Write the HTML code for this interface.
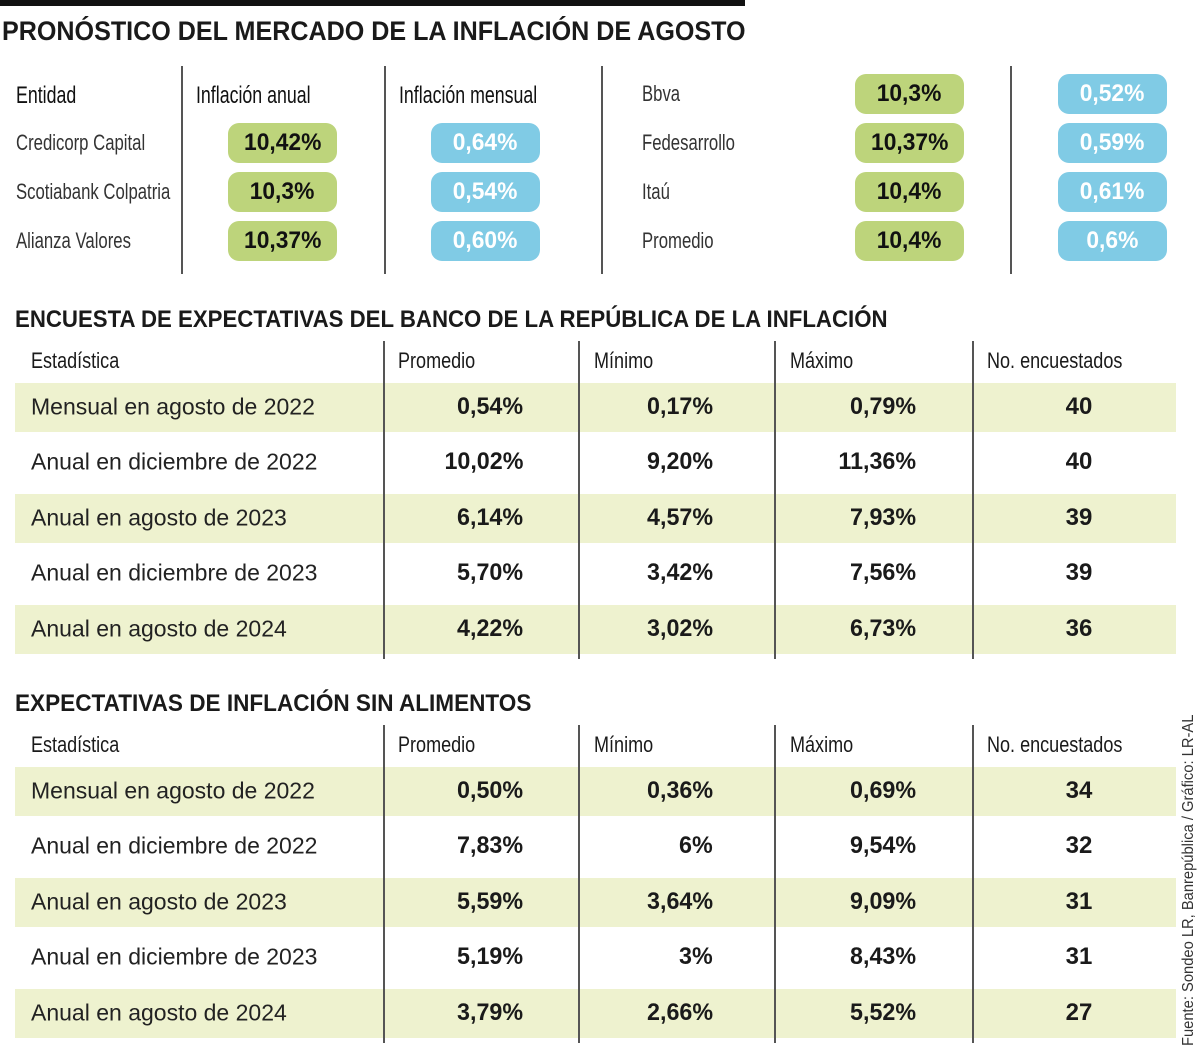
<!DOCTYPE html>
<html><head><meta charset="utf-8">
<style>
body{margin:0;width:1200px;height:1051px;background:#fff;position:relative;overflow:hidden;font-family:"Liberation Sans",sans-serif;color:#1a1a1a}
.a{position:absolute;white-space:nowrap}
.t{font-weight:bold;transform-origin:0 0}
.pill{position:absolute;width:109px;height:40px;border-radius:11px;text-align:center;line-height:40px;font-weight:bold;font-size:24px}
.pill span{display:inline-block;transform:scaleX(0.95)}
.g{background:#bdd47b;color:#111}
.b{background:#80cbe5;color:#fff}
.vl{position:absolute;width:1.5px;background:#555}
.lbl{font-size:22px;transform-origin:0 0;transform:translateY(-50%) scaleX(0.76)}
.hdr{font-size:22px;transform-origin:0 0;transform:translateY(-50%) scaleX(0.82)}
.cell{font-size:23px;transform:translateY(-50%)}
.num{font-weight:bold;font-size:24px;transform-origin:100% 0;transform:translateY(-50%) scaleX(0.97)}
.band{position:absolute;left:15px;width:1161px;height:49px;background:#eef2cf}
</style></head><body>
<div class="a" style="left:0;top:0;width:745px;height:6px;background:#111"></div>
<div class="a t" style="left:2px;top:16px;font-size:27px;transform:scaleX(0.93)">PRONÓSTICO DEL MERCADO DE LA INFLACIÓN DE AGOSTO</div>
<div class="a t" style="left:15px;top:306px;font-size:24px;transform:scaleX(0.926)">ENCUESTA DE EXPECTATIVAS DEL BANCO DE LA REPÚBLICA DE LA INFLACIÓN</div>
<div class="a t" style="left:15px;top:690px;font-size:24px;transform:scaleX(0.94)">EXPECTATIVAS DE INFLACIÓN SIN ALIMENTOS</div>
<div class="a" style="left:1180px;top:1046px;font-size:16px;color:#333;transform-origin:0 0;transform:rotate(-90deg) scaleX(0.92)">Fuente: Sondeo LR, Banrepública / Gráfico: LR-AL</div>
<script>
const leftEntities=["Credicorp Capital","Scotiabank Colpatria","Alianza Valores"];
const leftAnual=["10,42%","10,3%","10,37%"];
const leftMensual=["0,64%","0,54%","0,60%"];
const rightEntities=["Bbva","Fedesarrollo","Itaú","Promedio"];
const rightAnual=["10,3%","10,37%","10,4%","10,4%"];
const rightMensual=["0,52%","0,59%","0,61%","0,6%"];
const statLabels=["Mensual en agosto de 2022","Anual en diciembre de 2022","Anual en agosto de 2023","Anual en diciembre de 2023","Anual en agosto de 2024"];
const t1Prom=["0,54%","10,02%","6,14%","5,70%","4,22%"];
const t1Min=["0,17%","9,20%","4,57%","3,42%","3,02%"];
const t1Max=["0,79%","11,36%","7,93%","7,56%","6,73%"];
const t1N=["40","40","39","39","36"];
const t2Prom=["0,50%","7,83%","5,59%","5,19%","3,79%"];
const t2Min=["0,36%","6%","3,64%","3%","2,66%"];
const t2Max=["0,69%","9,54%","9,09%","8,43%","5,52%"];
const t2N=["34","32","31","31","27"];
const headers=["Estadística","Promedio","Mínimo","Máximo","No. encuestados"];

const root=document.body;
function mk(cls,style,text){const d=document.createElement('div');d.className=cls;d.setAttribute('style',style);if(text!==undefined)d.textContent=text;root.appendChild(d);return d;}
function pill(cls,style,text){const d=mk(cls,style);const s=document.createElement('span');s.textContent=text;d.appendChild(s);return d;}

[181,384,601,1010].forEach(x=>{
const v=mk('vl',`left:${x}px;top:66px;height:208px`);


});
const topHdr=[["Entidad",16],["Inflación anual",196],["Inflación mensual",399]];
topHdr.forEach(h=>{const e=mk('a hdr',`left:${h[1]}px;top:96px;font-size:24px;color:#111;transform:translateY(-50%) scaleX(0.74)`,h[0]);

});
const rowY=[143,192,241],rowYR=[94,143,192,241];
leftEntities.forEach((n,i)=>{
const e=mk('a lbl',`left:16px;top:${rowY[i]}px;color:#333`,n);


const g=pill('pill g',`left:228px;top:${rowY[i]-20}px`,leftAnual[i]);


const b=pill('pill b',`left:431px;top:${rowY[i]-20}px`,leftMensual[i]);


});
rightEntities.forEach((n,i)=>{
const e=mk('a lbl',`left:642px;top:${rowYR[i]}px;color:#333`,n);


const g=pill('pill g',`left:855px;top:${rowYR[i]-20}px`,rightAnual[i]);


const b=pill('pill b',`left:1058px;top:${rowYR[i]-20}px`,rightMensual[i]);


});

function table(hy,prom,mn,mx,n){
const rows=[hy+46,hy+101,hy+157,hy+212,hy+268];
rows.forEach((y,i)=>{if(i%2==0){const b=mk('band',`top:${y-24}px`);

}});
[383,578,774,972].forEach(x=>{const v=mk('vl',`left:${x}px;top:${hy-20}px;height:${rows[4]+30-(hy-20)}px`);

});
const hx=[31,398,594,790,987];
headers.forEach((h,i)=>{const e=mk('a hdr',`left:${hx[i]}px;top:${hy}px`,h);

});
rows.forEach((y,i)=>{
const l=mk('a cell',`left:31px;top:${y}px;color:#222`,statLabels[i]);


const p=mk('a num',`right:${1200-523}px;top:${y}px`,prom[i]);


const a=mk('a num',`right:${1200-713}px;top:${y}px`,mn[i]);


const c=mk('a num',`right:${1200-916}px;top:${y}px`,mx[i]);


const d=mk('a num',`left:1079px;top:${y}px;transform:translate(-50%,-50%)`,n[i]);


});
}
table(361,t1Prom,t1Min,t1Max,t1N);
table(745,t2Prom,t2Min,t2Max,t2N);
</script>
</body></html>
